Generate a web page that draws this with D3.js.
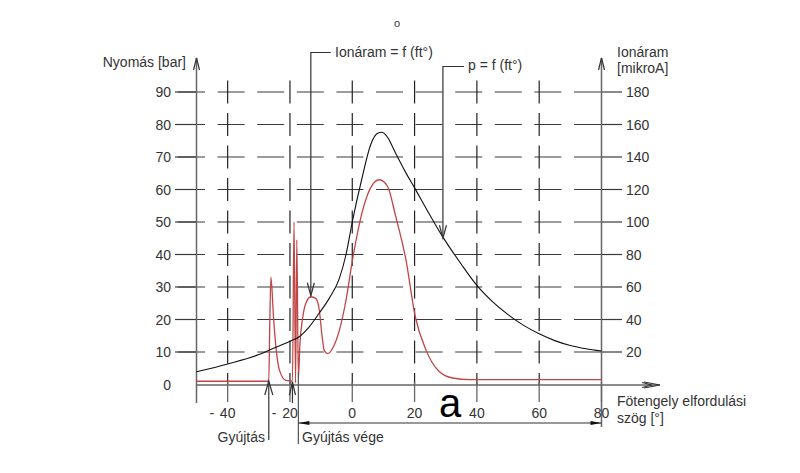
<!DOCTYPE html>
<html><head><meta charset="utf-8">
<script src="https://cdn.jsdelivr.net/npm/d3@7"></script>
<style>body{margin:0;background:#fff}svg{display:block}</style>
</head><body>
<script>
// ---- data ----
const pressureAngle = [-50,-40,-30,-26.6,-20,-17,-14,-10.6,-7.4,-4.2,-2,0,3,6,8,9.5,11,14,17,20,25,29,35,40,45,50,55,60,65,70,75,80];
const pressureBar   = [3.9,6.3,9.2,10.6,13.3,14.7,17.5,22,26.5,32.5,40,50,63,74,77.2,77.6,76.5,71,65.5,60.5,52,45.5,37,30.5,25.5,21.5,18.2,15.6,13.5,12,11,10.3];
const ionAngle   = [-50,-26.8,-26.5,-26.1,-25.3,-24.5,-23.4,-21.3,-19.2,-18.7,-18.2,-17.8,-17.3,-16.8,-16,-14.9,-13.3,-11.7,-10.6,-9.7,-9,-7.9,-6.4,-4.2,-2,0.1,3.3,6.5,8.7,11.3,14,17.2,20.2,23.7,27.9,32.2,37.6,80];
const ionMicroA  = [2,2,35,66,42,23,9,2.5,2,100,1,89,4,25,40,50,54,53,46,30,21,19,22,33,52,77,107,123,126,122,103,77,42,21,8,4,3,3];
const xTicks = [-40,-20,0,20,40,60,80];
const leftTicks = [0,10,20,30,40,50,60,70,80,90];
const rightTicks = [20,40,60,80,100,120,140,160,180];
const gridX = [-40,-20,0,20,40,60];
const gridY = [10,20,30,40,50,60,70,80,90];

const W = 800, H = 473;
const svg = d3.select("body").append("svg").attr("width", W).attr("height", H);
const x = d3.scaleLinear().domain([-50, 80]).range([196.5, 601.5]);
const yL = d3.scaleLinear().domain([0, 90]).range([384.5, 92]);
const yR = d3.scaleLinear().domain([0, 180]).range([384.5, 92]);
const FONT = "'Liberation Sans', Arial, sans-serif";
const TXT = "#333";

// ---- grid ----
const g = svg.append("g");
g.selectAll("line.hg").data(gridY).join("line")
  .attr("x1", 178).attr("x2", 601.5)
  .attr("y1", d => yL(d)).attr("y2", d => yL(d))
  .attr("stroke", "#3a3a3a").attr("stroke-width", 1.2)
  .attr("stroke-dasharray", "27 12.6");
// small solid ticks outside the axes
g.selectAll("line.lt").data(gridY).join("line")
  .attr("x1", 175).attr("x2", 196.5).attr("y1", d => yL(d)).attr("y2", d => yL(d))
  .attr("stroke", "#3a3a3a").attr("stroke-width", 1.2);
g.selectAll("line.rt").data(gridY).join("line")
  .attr("x1", 601.5).attr("x2", 622).attr("y1", d => yL(d)).attr("y2", d => yL(d))
  .attr("stroke", "#3a3a3a").attr("stroke-width", 1.2);
g.selectAll("line.vg").data(gridX).join("line")
  .attr("x1", d => x(d)).attr("x2", d => x(d))
  .attr("y1", yL(90) - 11.5).attr("y2", 385)
  .attr("stroke", "#222").attr("stroke-width", 1.2)
  .attr("stroke-dasharray", "23 9.5");

// ---- axes ----
const AX = "#666";
function line(x1,y1,x2,y2,c,w){ return svg.append("line").attr("x1",x1).attr("y1",y1).attr("x2",x2).attr("y2",y2).attr("stroke",c||AX).attr("stroke-width",w||1.5); }
function arrow(tx, ty, dx, dy, len, half, c){
  // dx,dy unit direction of pointing
  const bx = tx - dx*len, by = ty - dy*len;
  const px = -dy*half, py = dx*half;
  svg.append("path").attr("d", `M${bx+px},${by+py}L${tx},${ty}L${bx-px},${by-py}`)
    .attr("fill","none").attr("stroke", c||"#333").attr("stroke-width",1.2);
}
line(x(-50), 58, x(-50), 403);
line(x(80), 58, x(80), 427);
line(x(-50), 385, 660, 385);
arrow(x(-50), 58, 0, -1, 12, 3);
arrow(x(80), 58, 0, -1, 12, 3);
arrow(660, 385, 1, 0, 16, 3);
arrow(652, 385, 1, 0, 10, 2.5);

// x ticks
svg.selectAll("line.xt").data(xTicks).join("line")
  .attr("x1", d => x(d)).attr("x2", d => x(d)).attr("y1", 382).attr("y2", 402)
  .attr("stroke", AX).attr("stroke-width", 1.3);
const xl = svg.append("g").attr("font-family", FONT).attr("font-size", 14).attr("fill", TXT);
xTicks.forEach(v => {
  const t = xl.append("text").attr("x", x(v)).attr("y", 418).attr("text-anchor", "middle").text(Math.abs(v));
  if (v < 0) {
    const w = t.node().getComputedTextLength();
    xl.append("text").attr("x", x(v) - w/2 - 8).attr("y", 418).attr("text-anchor", "middle").text("-");
  }
});
// y labels
svg.append("g").selectAll("text").data(leftTicks).join("text")
  .attr("x", 171).attr("y", d => yL(d)).attr("dy", "0.36em").attr("text-anchor", "end")
  .attr("font-family", FONT).attr("font-size", 14).attr("fill", TXT).text(d => d);
svg.append("g").selectAll("text").data(rightTicks).join("text")
  .attr("x", 626).attr("y", d => yR(d)).attr("dy", "0.36em").attr("text-anchor", "start")
  .attr("font-family", FONT).attr("font-size", 14).attr("fill", TXT).text(d => d);

function text(s, tx, ty, opts){
  opts = opts || {};
  return svg.append("text").attr("x", tx).attr("y", ty)
    .attr("font-family", FONT).attr("font-size", opts.size || 14)
    .attr("fill", opts.fill || TXT).attr("text-anchor", opts.anchor || "start").text(s);
}
text("Nyomás [bar]", 186, 67, {anchor: "end"});
text("Ionáram", 617, 57);
text("[mikroA]", 617, 73);
text("Fötengely elfordulási", 617, 406);
text("szög [°]", 617, 423);
text("o", 397, 27, {size: 11, anchor: "middle"});

// ---- curves ----
const lineP = d3.line().x((d,i) => x(pressureAngle[i])).y(d => yL(d)).curve(d3.curveMonotoneX);
const lineI = d3.line().x((d,i) => x(ionAngle[i])).y(d => yR(d)).curve(d3.curveMonotoneX);
svg.append("path").attr("d", lineI(ionMicroA)).attr("fill", "none")
  .attr("stroke", "#c04545").attr("stroke-width", 1.3);
svg.append("path").attr("d", lineP(pressureBar)).attr("fill", "none")
  .attr("stroke", "#111").attr("stroke-width", 1.1);

// ---- annotations ----
// Ionáram = f (ft°)
const ionHumpX = x(-13.3), ionHumpY = yR(54) - 1;
svg.append("path").attr("d", `M${ionHumpX+20},52.5H${ionHumpX}V${ionHumpY}`)
  .attr("fill","none").attr("stroke","#333").attr("stroke-width",1.2);
arrow(ionHumpX, ionHumpY, 0, 1, 13, 3.5);
text("Ionáram = f (ft°)", 335, 57);
// p = f (ft°)
const pX = x(29.1), pY = yL(45);
svg.append("path").attr("d", `M${pX+21},66.5H${pX}V${pY}`)
  .attr("fill","none").attr("stroke","#333").attr("stroke-width",1.2);
arrow(pX, pY, 0, 1, 13, 3.5);
text("p = f (ft°)", 468, 70);

// Gyújtás
line(x(-26.8), 381, x(-26.8), 440, "#333", 1.2);
arrow(x(-26.8), 381, 0, -1, 14, 4);
text("Gyújtás", 265, 442, {anchor: "end"});
// Gyújtás vége
line(x(-19.2), 382, x(-19.2), 403, "#333", 1.2);
arrow(x(-19.2), 382, 0, -1, 13, 3);
line(x(-17.3), 372, x(-17.3), 444, "#555", 1.2);
text("Gyújtás vége", 302, 442);

// dimension a
const dimY = 423;
line(x(-17.3), dimY, x(80), dimY, "#333", 1.2);
svg.append("path").attr("d", `M${x(-17.3)},${dimY}L${x(-17.3)+11},${dimY-2}L${x(-17.3)+11},${dimY+2}Z`).attr("fill","#111");
svg.append("path").attr("d", `M${x(80)},${dimY}L${x(80)-11},${dimY-2}L${x(80)-11},${dimY+2}Z`).attr("fill","#111");
text("a", 450, 417, {size: 40, anchor: "middle", fill: "#000"});
</script>
</body></html>
